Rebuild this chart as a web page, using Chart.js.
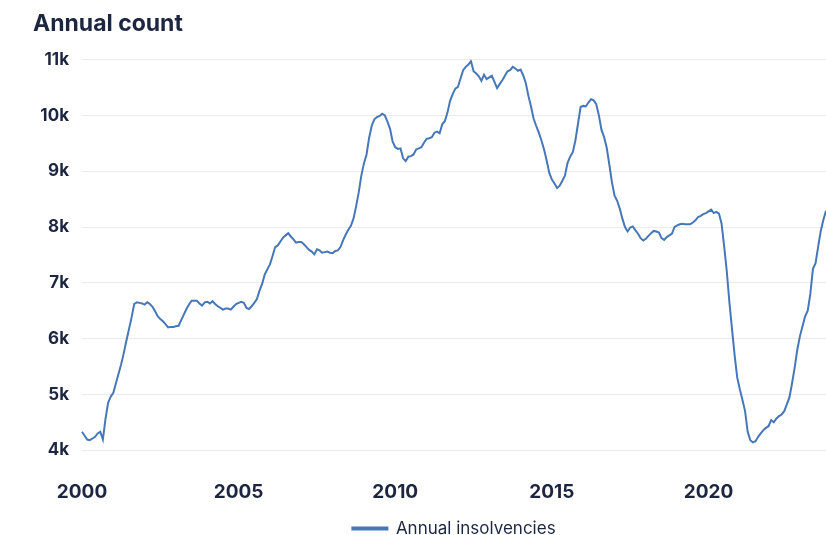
<!DOCTYPE html>
<html>
<head>
    <meta charset="utf-8" />
    <title>Annual insolvencies</title>
    <style>
        html, body { margin: 0; padding: 0; background: #fff; }
        #wrap { width: 826px; height: 535px; }
    </style>
</head>
<body>
    <div id="wrap"><canvas id="myChart" width="826" height="535"></canvas></div>
    <script src="https://cdn.jsdelivr.net/npm/chart.js@4.4.0/dist/chart.umd.min.js"></script>
    <script>
        // monthly values, Jan 2000 .. Oct 2023, one row per year
        var startYear = 2000;
        var yearTicks = [2000, 2005, 2010, 2015, 2020];
        var y2000 = [4330, 4260, 4190, 4180, 4210, 4240, 4300, 4330, 4190, 4560, 4850, 4960];
        var y2001 = [5030, 5200, 5370, 5540, 5740, 5960, 6170, 6380, 6620, 6650, 6640, 6630];
        var y2002 = [6610, 6650, 6620, 6570, 6490, 6400, 6350, 6310, 6260, 6200, 6210, 6210];
        var y2003 = [6220, 6230, 6330, 6430, 6530, 6610, 6680, 6680, 6680, 6630, 6590, 6650];
        var y2004 = [6660, 6630, 6670, 6620, 6580, 6550, 6520, 6540, 6540, 6520, 6570, 6620];
        var y2005 = [6640, 6660, 6640, 6550, 6530, 6580, 6640, 6710, 6860, 6980, 7150, 7240];
        var y2006 = [7330, 7480, 7640, 7670, 7740, 7810, 7850, 7890, 7830, 7780, 7720, 7730];
        var y2007 = [7730, 7690, 7640, 7590, 7560, 7510, 7600, 7580, 7540, 7550, 7560, 7540];
        var y2008 = [7530, 7570, 7580, 7640, 7760, 7860, 7950, 8020, 8150, 8370, 8620, 8920];
        var y2009 = [9140, 9300, 9600, 9820, 9930, 9970, 9990, 10030, 10000, 9890, 9760, 9530];
        var y2010 = [9430, 9400, 9410, 9230, 9180, 9260, 9270, 9300, 9390, 9410, 9430, 9510];
        var y2011 = [9580, 9590, 9610, 9690, 9710, 9680, 9840, 9900, 10050, 10260, 10380, 10480];
        var y2012 = [10510, 10660, 10810, 10870, 10910, 10970, 10790, 10750, 10700, 10620, 10730, 10650];
        var y2013 = [10680, 10710, 10600, 10490, 10560, 10630, 10710, 10790, 10810, 10870, 10840, 10800];
        var y2014 = [10820, 10720, 10580, 10350, 10160, 9940, 9810, 9690, 9550, 9390, 9190, 8970];
        var y2015 = [8850, 8780, 8700, 8740, 8830, 8920, 9150, 9260, 9340, 9550, 9850, 10150];
        var y2016 = [10170, 10160, 10230, 10290, 10270, 10200, 10000, 9740, 9610, 9420, 9120, 8800];
        var y2017 = [8560, 8470, 8330, 8150, 8000, 7920, 7990, 8010, 7940, 7880, 7800, 7760];
        var y2018 = [7790, 7840, 7890, 7930, 7920, 7900, 7800, 7770, 7820, 7850, 7880, 8000];
        var y2019 = [8030, 8050, 8060, 8050, 8050, 8050, 8080, 8120, 8180, 8200, 8230, 8250];
        var y2020 = [8280, 8310, 8250, 8270, 8240, 8060, 7650, 7200, 6650, 6170, 5700, 5300];
        var y2021 = [5090, 4900, 4700, 4330, 4180, 4140, 4160, 4240, 4300, 4360, 4400, 4430];
        var y2022 = [4540, 4500, 4570, 4610, 4640, 4700, 4820, 4950, 5200, 5480, 5800, 6040];
        var y2023 = [6220, 6400, 6500, 6800, 7250, 7350, 7650, 7930, 8130, 8290];

        var insolvencies = [].concat(y2000, y2001, y2002, y2003, y2004, y2005, y2006, y2007,
            y2008, y2009, y2010, y2011, y2012, y2013, y2014, y2015, y2016, y2017, y2018,
            y2019, y2020, y2021, y2022, y2023);

        // one category per month, labelled by its year
        var labels = [];
        var months = [];
        for (var i = 0; i < insolvencies.length; i++) {
            labels.push(String(startYear + Math.floor(i / 12)));
            months.push(i % 12);
        }

        var navy = '#1d2640';
        var blue = '#4677b8';

        var context = document.getElementById('myChart').getContext('2d');
        var chart = new Chart(context, {
            type: 'line',
            data: {
                labels: labels,
                datasets: [{
                    label: 'Annual insolvencies',
                    data: insolvencies,
                    borderColor: blue,
                    backgroundColor: blue,
                    borderWidth: 2,
                    pointRadius: 0,
                    tension: 0
                }]
            },
            options: {
                responsive: false,
                animation: false,
                layout: { padding: { left: 33, right: 0, top: 6, bottom: -12 } },
                plugins: {
                    title: {
                        display: true,
                        text: 'Annual count',
                        align: 'start',
                        color: navy,
                        font: { family: 'Inter', size: 23, weight: 'bold' },
                        padding: { top: 4, bottom: 22 }
                    },
                    legend: {
                        position: 'bottom',
                        fullSize: false,
                        labels: {
                            color: navy,
                            boxWidth: 35,
                            boxHeight: 2,
                            padding: 0,
                            font: { family: 'Inter', size: 17 }
                        }
                    },
                    tooltip: { enabled: false }
                },
                scales: {
                    x: {
                        afterFit: function (axis) { axis.height -= 7; },
                        grid: { display: false },
                        border: { display: false },
                        ticks: {
                            autoSkip: false,
                            maxRotation: 0,
                            padding: 23,
                            color: navy,
                            font: { family: 'Inter', size: 19, weight: 'bold' },
                            callback: function (value, index) {
                                var yr = Number(labels[index]);
                                return (months[index] === 0 && yearTicks.indexOf(yr) >= 0) ? labels[index] : null;
                            }
                        }
                    },
                    y: {
                        min: 4000,
                        max: 11000,
                        afterFit: function (axis) { axis.width = 49; },
                        grid: { color: '#ebebeb', drawTicks: false },
                        border: { display: false },
                        ticks: {
                            stepSize: 1000,
                            padding: 13,
                            color: navy,
                            font: { family: 'Inter', size: 17, weight: 'bold' },
                            callback: function (v) { return (v / 1000) + 'k'; }
                        }
                    }
                }
            }
        });
    </script>
</body>
</html>
